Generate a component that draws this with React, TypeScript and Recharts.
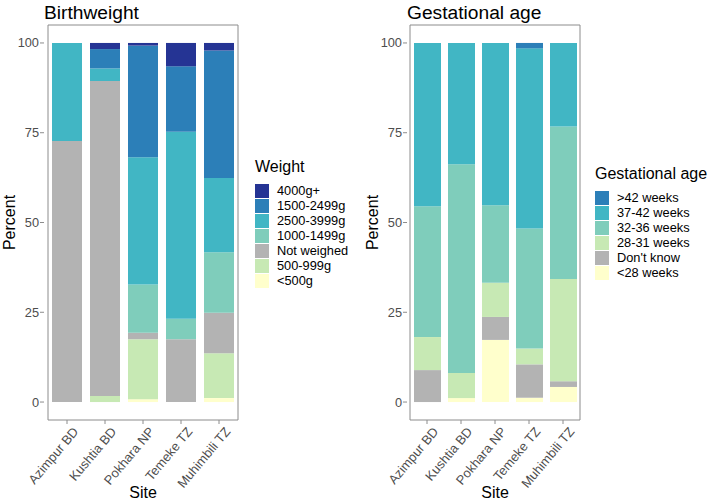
import React from "react";
import { BarChart, Bar, XAxis, YAxis, ReferenceArea } from "recharts";

// sites, bottom-to-top stack order follows the series arrays
const sites = ["Azimpur BD", "Kushtia BD", "Pokhara NP", "Temeke TZ", "Muhimbili TZ"];

// Birthweight (%)
const wUnder500 = [0, 0, 0.8, 0, 1.1];
const w500to999 = [0, 1.7, 16.7, 0, 12.5];
const wNotWeighed = [72.7, 87.7, 1.8, 17.5, 11.3];
const w1000to1499 = [0, 0, 13.4, 5.7, 16.8];
const w2500to3999 = [27.3, 3.5, 35.5, 52.1, 20.7];
const w1500to2499 = [0, 5.4, 31.05, 18.2, 35.5];
const w4000plus = [0, 1.7, 0.75, 6.5, 2.1];

// Gestational age (%)
const gUnder28 = [0, 1.1, 17.3, 1.2, 4.2];
const gDontKnow = [8.9, 0, 6.4, 9.3, 1.6];
const g28to31 = [9.2, 7.0, 9.5, 4.4, 28.5];
const g32to36 = [36.4, 58.1, 21.6, 33.4, 42.4];
const g37to42 = [45.5, 33.8, 45.2, 50.2, 23.3];
const gOver42 = [0, 0, 0, 1.5, 0];

const yTicks = [0, 25, 50, 75, 100];

const weightSeries = [
  { key: "<500g", values: wUnder500, color: "#ffffcc" },
  { key: "500-999g", values: w500to999, color: "#c7e9b4" },
  { key: "Not weighed", values: wNotWeighed, color: "#b3b3b3" },
  { key: "1000-1499g", values: w1000to1499, color: "#7fcdbb" },
  { key: "2500-3999g", values: w2500to3999, color: "#41b6c4" },
  { key: "1500-2499g", values: w1500to2499, color: "#2c7fb8" },
  { key: "4000g+", values: w4000plus, color: "#253494" },
];

const gestSeries = [
  { key: "<28 weeks", values: gUnder28, color: "#ffffcc" },
  { key: "Don't know", values: gDontKnow, color: "#b3b3b3" },
  { key: "28-31 weeks", values: g28to31, color: "#c7e9b4" },
  { key: "32-36 weeks", values: g32to36, color: "#7fcdbb" },
  { key: "37-42 weeks", values: g37to42, color: "#41b6c4" },
  { key: ">42 weeks", values: gOver42, color: "#2c7fb8" },
];

type Series = { key: string; values: number[]; color: string };

const buildRows = (series: Series[]) =>
  sites.map((site, i) => {
    const row: Record<string, string | number> = { site };
    series.forEach((s) => (row[s.key] = s.values[i]));
    return row;
  });

const FONT = "'Liberation Sans', Arial, Helvetica, sans-serif";
const TICK = "#4d4d4d";
const BORDER = "#8c8c8c";
const SMALL = 12.8;

const SiteTick = (props: any) => {
  const { x, y, payload } = props;
  return (
    <g transform={`translate(${x + 5},${y})`}>
      <text
        transform="rotate(-50)"
        textAnchor="end"
        dy="0.71em"
        fontSize={13}
        fill={TICK}
        fontFamily={FONT}
      >
        {payload.value}
      </text>
    </g>
  );
};

interface PanelProps {
  title: string;
  series: Series[];
  left: number;
  width: number;
  yAxisWidth: number;
  barSize: number;
  pad: number;
}

function Panel({ title, series, left, width, yAxisWidth, barSize, pad }: PanelProps) {
  const data = buildRows(series);
  return (
    <div style={{ position: "absolute", left, top: 0 }}>
      <BarChart
        width={width}
        height={502}
        data={data}
        margin={{ top: 25, right: 7, bottom: 12, left: 0 }}
        barSize={barSize}
      >
        <text x={yAxisWidth} y={19} fontSize={19.2} fontFamily={FONT} fill="#000">
          {title}
        </text>
        <XAxis
          dataKey="site"
          interval={0}
          height={70}
          padding={{ left: pad, right: pad }}
          axisLine={false}
          tickLine={{ stroke: BORDER }}
          tickSize={4}
          tickMargin={2}
          tick={<SiteTick />}
          label={(p: any) => {
            const vb = p.viewBox;
            return (
              <text
                x={vb.x + vb.width / 2}
                y={498}
                textAnchor="middle"
                fontSize={16}
                fontFamily={FONT}
                fill="#000"
              >
                Site
              </text>
            );
          }}
        />
        <YAxis
          type="number"
          domain={[-5, 105]}
          ticks={yTicks}
          allowDataOverflow
          width={yAxisWidth}
          axisLine={false}
          tickLine={{ stroke: BORDER }}
          tickSize={4}
          tickMargin={1}
          tick={{ fontSize: SMALL, fill: TICK, fontFamily: FONT }}
          label={(p: any) => {
            const vb = p.viewBox;
            const cy = vb.y + vb.height / 2;
            const cx = vb.x + yAxisWidth - 29;
            return (
              <text
                x={cx}
                y={cy}
                transform={`rotate(-90,${cx},${cy})`}
                textAnchor="middle"
                fontSize={16}
                fontFamily={FONT}
                fill="#000"
              >
                Percent
              </text>
            );
          }}
        />
        {series.map((s) => (
          <Bar
            key={s.key}
            dataKey={s.key}
            stackId="a"
            fill={s.color}
            isAnimationActive={false}
          />
        ))}
        <ReferenceArea
          y1={-5}
          y2={105}
          fill="none"
          stroke={BORDER}
          strokeWidth={1}
          ifOverflow="visible"
        />
      </BarChart>
    </div>
  );
}

function KeyLegend({
  title,
  series,
  left,
  top,
  labelOffset,
}: {
  title: string;
  series: Series[];
  left: number;
  top: number;
  labelOffset: number;
}) {
  const items = [...series].reverse();
  return (
    <div style={{ position: "absolute", left, top, fontFamily: FONT }}>
      <div style={{ fontSize: 16, lineHeight: "16px", height: 24, color: "#000", whiteSpace: "nowrap" }}>
        {title}
      </div>
      {items.map((s) => (
        <div
          key={s.key}
          style={{ display: "flex", alignItems: "center", height: 15 }}
        >
          <div style={{ width: 14, height: 14, background: s.color }} />
          <div
            style={{
              marginLeft: labelOffset,
              fontSize: SMALL,
              lineHeight: "15px",
              color: "#000",
              whiteSpace: "nowrap",
            }}
          >
            {s.key}
          </div>
        </div>
      ))}
    </div>
  );
}

export default function App() {
  return (
    <div
      style={{
        position: "absolute",
        left: 0,
        top: 0,
        width: 709,
        height: 502,
        background: "#fff",
        overflow: "hidden",
      }}
    >
      <Panel
        title="Birthweight"
        series={weightSeries}
        left={0}
        width={249}
        yAxisWidth={44}
        barSize={30}
        pad={4}
      />
      <KeyLegend title="Weight" series={weightSeries} left={255} top={159} labelOffset={8} />
      <Panel
        title="Gestational age"
        series={gestSeries}
        left={360}
        width={230}
        yAxisWidth={47}
        barSize={27}
        pad={3}
      />
      <KeyLegend
        title="Gestational age"
        series={gestSeries}
        left={595}
        top={166}
        labelOffset={8}
      />
    </div>
  );
}
